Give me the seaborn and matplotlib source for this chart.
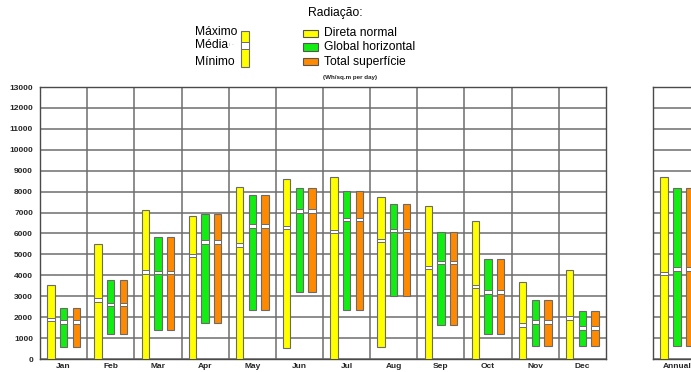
import numpy as np
import pandas as pd
import matplotlib
matplotlib.use("Agg")
import matplotlib.pyplot as plt
from matplotlib.patches import Rectangle
import seaborn as sns

# Daily radiation (Wh/sq.m per day): maximum, mean and minimum per month
months = ["Jan", "Feb", "Mar", "Apr", "May", "Jun",
          "Jul", "Aug", "Sep", "Oct", "Nov", "Dec"]

direct_max = [3520, 5490, 7130, 6820, 8220, 8600, 8710, 7740, 7290, 6580, 3680, 4270]
direct_mean = [1880, 2820, 4160, 4940, 5450, 6290, 6100, 5650, 4380, 3460, 1620, 1960]
direct_min = [0, 0, 0, 0, 0, 530, 0, 560, 0, 0, 0, 0]

global_max = [2440, 3790, 5830, 6940, 7850, 8150, 8010, 7390, 6070, 4790, 2830, 2280]
global_mean = [1770, 2610, 4120, 5590, 6350, 7070, 6670, 6130, 4600, 3200, 1770, 1480]
global_min = [570, 1190, 1370, 1720, 2360, 3200, 2320, 2990, 1620, 1190, 640, 600]

total_max = [2440, 3790, 5830, 6940, 7850, 8150, 8010, 7390, 6070, 4790, 2830, 2280]
total_mean = [1770, 2610, 4120, 5590, 6350, 7070, 6670, 6130, 4600, 3200, 1770, 1480]
total_min = [570, 1190, 1370, 1720, 2360, 3200, 2320, 2990, 1620, 1190, 640, 600]

annual_label = ["Annual"]
annual_direct = [8710, 4100, 0]     # max, mean, min
annual_global = [8150, 4300, 600]
annual_total = [8150, 4300, 600]

series_names = ["Direta normal", "Global horizontal", "Total superfície"]
series_colors = ["#FFFF00", "#12EE12", "#FF8A00"]

monthly = pd.DataFrame({
    "month": months * 3,
    "series": np.repeat(series_names, len(months)),
    "vmax": direct_max + global_max + total_max,
    "vmean": direct_mean + global_mean + total_mean,
    "vmin": direct_min + global_min + total_min,
})
annual = pd.DataFrame({
    "month": annual_label * 3,
    "series": series_names,
    "vmax": [annual_direct[0], annual_global[0], annual_total[0]],
    "vmean": [annual_direct[1], annual_global[1], annual_total[1]],
    "vmin": [annual_direct[2], annual_global[2], annual_total[2]],
})

sns.set_theme(style="white")
plt.rcParams["font.family"] = ["Liberation Sans", "DejaVu Sans"]

W, H = 691, 372
fig = plt.figure(figsize=(W / 100, H / 100), dpi=100)
fig.patch.set_facecolor("white")


def fx(x):
    return x / W


def fy(y):
    return 1 - y / H


GRID = "#6e6e6e"
EDGE = "#6a6a6a"
SPINE = "#4a4a4a"
offsets = [-0.27, 0.0, 0.27]
bar_w = 0.155
band = 160


def draw_panel(ax, data, labels, show_ylabels):
    cats = list(labels)
    pos = {c: i for i, c in enumerate(cats)}
    for k, name in enumerate(series_names):
        sub = data[data["series"] == name]
        x = np.array([pos[m] for m in sub["month"]]) + offsets[k]
        ax.bar(x, sub["vmax"] - sub["vmin"], bottom=sub["vmin"], width=bar_w,
               color=series_colors[k], edgecolor=EDGE, linewidth=0.8, zorder=3)
        ax.bar(x, band, bottom=sub["vmean"] - band / 2, width=bar_w,
               color="white", edgecolor=EDGE, linewidth=0.7, zorder=4)
    ax.set_xlim(-0.5, len(cats) - 0.5)
    ax.set_ylim(0, 13000)
    ax.set_yticks(np.arange(0, 13001, 1000))
    ax.set_xticks(np.arange(len(cats)))
    ax.set_xticklabels(cats, fontsize=6, fontweight="bold")
    ax.yaxis.grid(True, color=GRID, linewidth=1.1, zorder=0)
    ax.xaxis.grid(False)
    for b in np.arange(0.5, len(cats) - 0.5, 1):
        ax.axvline(b, color=GRID, linewidth=1.1, zorder=0)
    ax.set_axisbelow(True)
    ax.tick_params(axis="x", length=0, pad=3)
    ax.tick_params(axis="y", length=3, width=0.8, color=GRID, pad=2,
                   labelsize=6, labelleft=show_ylabels)
    for lab in ax.get_yticklabels():
        lab.set_fontweight("bold")
    for s in ax.spines.values():
        s.set_color(SPINE)
        s.set_linewidth(1.0)
    ax.set_xlabel("")
    ax.set_ylabel("")
    ax.set_facecolor("white")


ax = fig.add_axes([fx(40), fy(359), (606 - 40) / W, (359 - 87) / H])
draw_panel(ax, monthly, months, True)

ax_an = fig.add_axes([fx(653.3), fy(359), 47.1 / W, (359 - 87) / H])
draw_panel(ax_an, annual, annual_label, False)

# Legend: statistic key
for txt, y in [("Máximo", 32), ("Média", 45.5), ("Mínimo", 62)]:
    fig.text(fx(195), fy(y), txt, ha="left", va="center", fontsize=8.7,
             color="#000000")
fig.text(fx(229), fy(45), "ı -", ha="left", va="center", fontsize=4,
         color="#aaaaaa")
fig.add_artist(Rectangle((fx(241), fy(67)), 8 / W, 36 / H,
                         transform=fig.transFigure, facecolor="#FFFF00",
                         edgecolor=EDGE, linewidth=0.8))
fig.add_artist(Rectangle((fx(241), fy(49)), 8 / W, 7 / H,
                         transform=fig.transFigure, facecolor="white",
                         edgecolor=EDGE, linewidth=0.7))

# Legend: series key
fig.text(fx(307.7), fy(13), "Radiação:", ha="left", va="center",
         fontsize=8.7, color="#000000")
for k, (name, y) in enumerate(zip(series_names, [33.5, 47, 61.5])):
    fig.add_artist(Rectangle((fx(303), fy(y + 3.5)), 14.5 / W, 7.5 / H,
                             transform=fig.transFigure,
                             facecolor=series_colors[k], edgecolor="#555555",
                             linewidth=0.8))
    fig.text(fx(324), fy(y), name, ha="left", va="center", fontsize=8.7,
             color="#000000")
fig.text(fx(323), fy(77), "(Wh/sq.m per day)", ha="left", va="center",
         fontsize=4.5, fontweight="bold", color="#222222")

fig.savefig("out.png", dpi=100)
